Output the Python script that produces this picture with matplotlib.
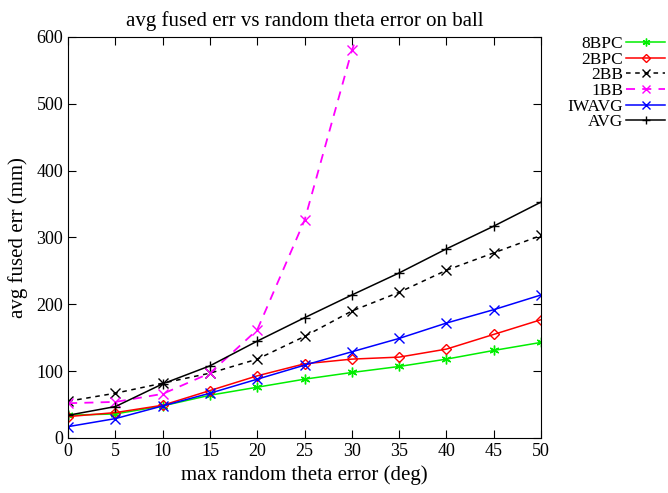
import matplotlib
matplotlib.use("Agg")
import matplotlib.pyplot as plt

plt.rcParams['font.family'] = ['Liberation Serif', 'DejaVu Serif']

# x values (deg)
theta = [0, 5, 10, 15, 20, 25, 30, 35, 40, 45, 50]

# avg fused err (mm) per method
bpc8 = [34, 36, 48, 64, 76, 88, 98, 107, 118, 131, 143]
bpc2 = [32, 38, 49, 71, 93, 111, 118, 121, 133, 155, 177]
bb2 = [55, 67, 82, 97, 118, 152, 190, 218, 251, 277, 303]
# 1BB runs off the top after 30 deg
bb1_x = [0, 5, 10, 15, 20, 25, 30, 35]
bb1 = [52, 54, 66, 97, 162, 326, 580, 780]
iwavg = [17, 29, 48, 67, 88, 109, 129, 149, 172, 192, 214]
avg = [34, 47, 81, 108, 145, 180, 214, 247, 283, 317, 353]

fig = plt.figure(figsize=(6.68, 4.93), dpi=100)
ax = fig.add_axes([0.102, 0.1116, 0.708, 0.8134])

ax.plot(theta, bpc8, color='#00ee00', marker=(6, 2, 0), ms=7, lw=1.1, label='8BPC')
ax.plot(theta, bpc2, color='red', marker='D', ms=5, mfc='none', lw=1.1, label='2BPC')
ax.plot(theta, bb2, color='black', marker='x', ms=7, ls=(0, (3, 3)), lw=1.1, label='2BB')
ax.plot(bb1_x, bb1, color='magenta', marker='x', ms=7, ls=(0, (5, 4)), lw=1.3, label='1BB')
ax.plot(theta, iwavg, color='blue', marker='x', ms=7, lw=1.1, label='IWAVG')
ax.plot(theta, avg, color='black', marker='+', ms=7, lw=1.1, label='AVG')

ax.set_xlim(0, 50)
ax.set_ylim(0, 600)
ax.set_xticks(range(0, 51, 5))
ax.set_yticks(range(0, 601, 100))
ax.tick_params(direction='in', top=True, right=True, length=6, labelsize=13)
ax.set_xlabel('max random theta error (deg)', fontsize=15, labelpad=4)
ax.set_ylabel('avg fused err (mm)', fontsize=15, labelpad=6)
ax.set_title('avg fused err vs random theta error on ball', fontsize=15, pad=8)

fig.legend(loc='upper right', bbox_to_anchor=(0.995, 0.927), frameon=False,
           markerfirst=False, fontsize=12.5, handlelength=2.2, labelspacing=-0.03,
           borderaxespad=0, borderpad=0, handletextpad=0.2, markerscale=0.8)

fig.savefig('out.png', dpi=100)
